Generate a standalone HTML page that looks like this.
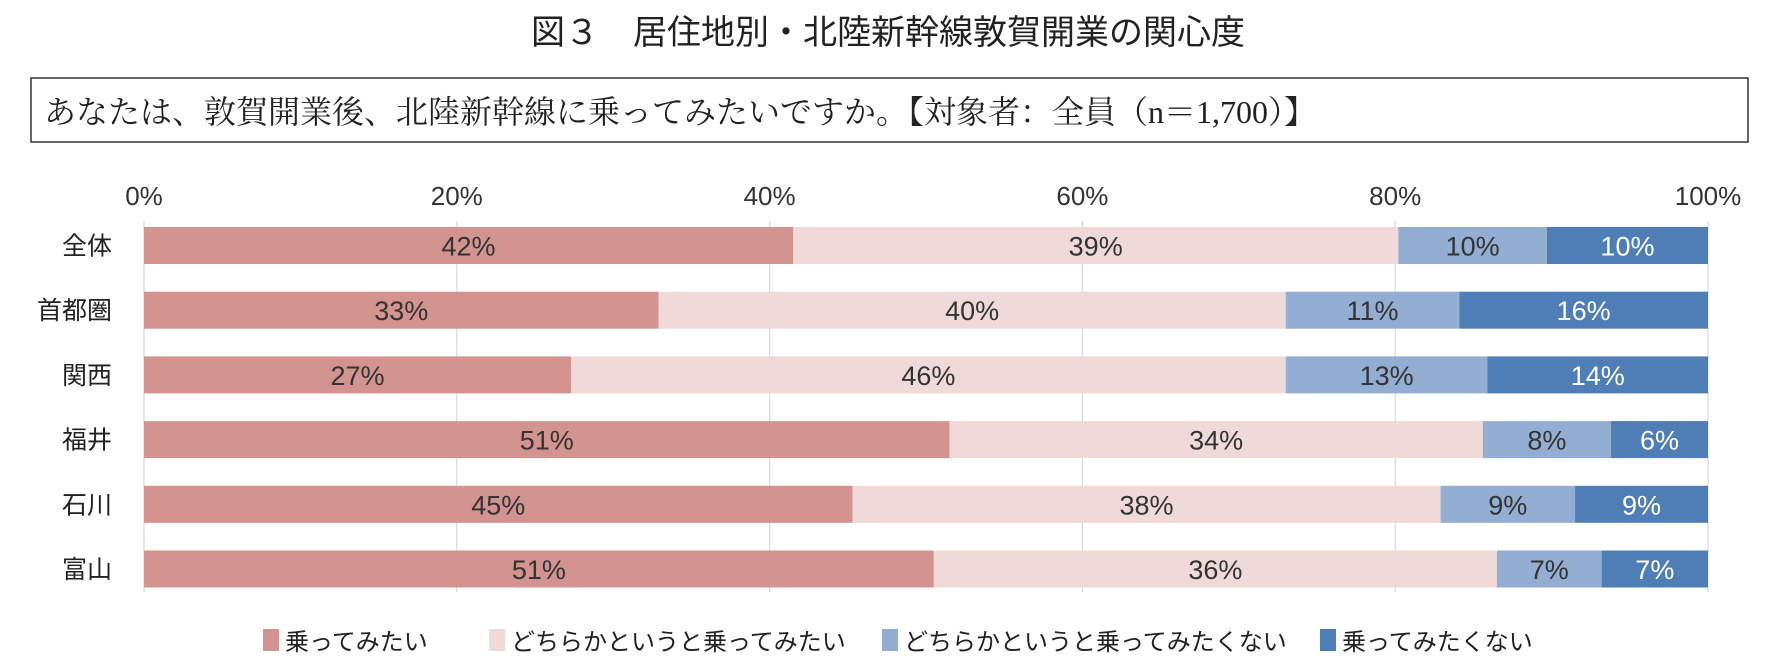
<!DOCTYPE html>
<html><head><meta charset="utf-8"><style>
body{margin:0;background:#fff;width:1776px;height:672px;overflow:hidden}
svg{display:block}
.s{font-family:"Liberation Sans","Noto Sans CJK JP",sans-serif}
</style></head><body>
<svg id="c" width="1776" height="672" xmlns="http://www.w3.org/2000/svg">
<text x="888" y="44" text-anchor="middle" class="s" font-size="34" fill="#222">図３　居住地別・北陸新幹線敦賀開業の関心度</text>
<rect x="31" y="78" width="1717" height="64" fill="#fff" stroke="#333" stroke-width="1.5"/>
<text x="44" y="123" font-family="'Liberation Serif','Noto Serif CJK SC',serif" font-size="32" fill="#222">あなたは、敦賀開業後、北陸新幹線に乗ってみたいですか。【対象者：全員（n＝1,700）】</text>
<g id="grid"></g><g id="bars"></g><g id="legend"></g>
</svg>
<script>
const categories=["全体","首都圏","関西","福井","石川","富山"];
const seriesNames=["乗ってみたい","どちらかというと乗ってみたい","どちらかというと乗ってみたくない","乗ってみたくない"];
const s1=[41.5,32.9,27.3,51.5,45.3,50.5];
const s2=[38.7,40.1,45.7,34.1,37.6,36.0];
const s3=[9.5,11.1,12.9,8.2,8.6,6.7];
const s4=[10.3,15.9,14.1,6.2,8.5,6.8];
const l1=["42%","33%","27%","51%","45%","51%"];
const l2=["39%","40%","46%","34%","38%","36%"];
const l3=["10%","11%","13%","8%","9%","7%"];
const l4=["10%","16%","14%","6%","9%","7%"];
const ticks=[0,20,40,60,80,100];
const series=[s1,s2,s3,s4],labels=[l1,l2,l3,l4];
const colors=["#D39391","#F0DAD9","#93AED2","#4F7DB5"];
const NS="http://www.w3.org/2000/svg";
const x=v=>144+v/100*1564;
const y=i=>227+i*64.7;
const BH=37;
function mk(t,a,p){const e=document.createElementNS(NS,t);for(const k in a)e.setAttribute(k,a[k]);p.appendChild(e);return e;}
const g=document.getElementById('grid'),b=document.getElementById('bars'),lg=document.getElementById('legend');
ticks.forEach(t=>{
 const l=mk('line',{x1:x(t),x2:x(t),y1:221,y2:592,stroke:'#d9d9d9','stroke-width':1.2},g);
 
 
 const tx=mk('text',{x:x(t),y:205,'text-anchor':'middle','font-size':26,fill:'#333',class:'s'},g);
 tx.textContent=t+'%';
 
 
});
categories.forEach((c,i)=>{
 const ct=mk('text',{x:112,y:y(i)+BH/2+9,'text-anchor':'end','font-size':25,fill:'#222',class:'s'},b);
 ct.textContent=c;
 
 
 let acc=0;
 series.forEach((s,k)=>{
  const x0=x(acc),x1=x(acc+s[i]);acc+=s[i];
  const r=mk('rect',{x:x0,y:y(i),width:x1-x0,height:BH,fill:colors[k]},b);
  
  
  const t=mk('text',{x:(x0+x1)/2,y:y(i)+BH/2+10,'text-anchor':'middle','font-size':27,fill:k==3?'#fff':'#333',class:'s'},b);
  t.textContent=labels[k][i];
  
  
 });
});
const lx=[263,489,882,1320];
seriesNames.forEach((n,k)=>{
 const r=mk('rect',{x:lx[k],y:629,width:16,height:22,fill:colors[k]},lg);
 
 
 const t=mk('text',{x:lx[k]+22,y:650,'font-size':24,fill:'#222',class:'s'},lg);
 t.textContent=n;
 
 
});
</script>
</body></html>
